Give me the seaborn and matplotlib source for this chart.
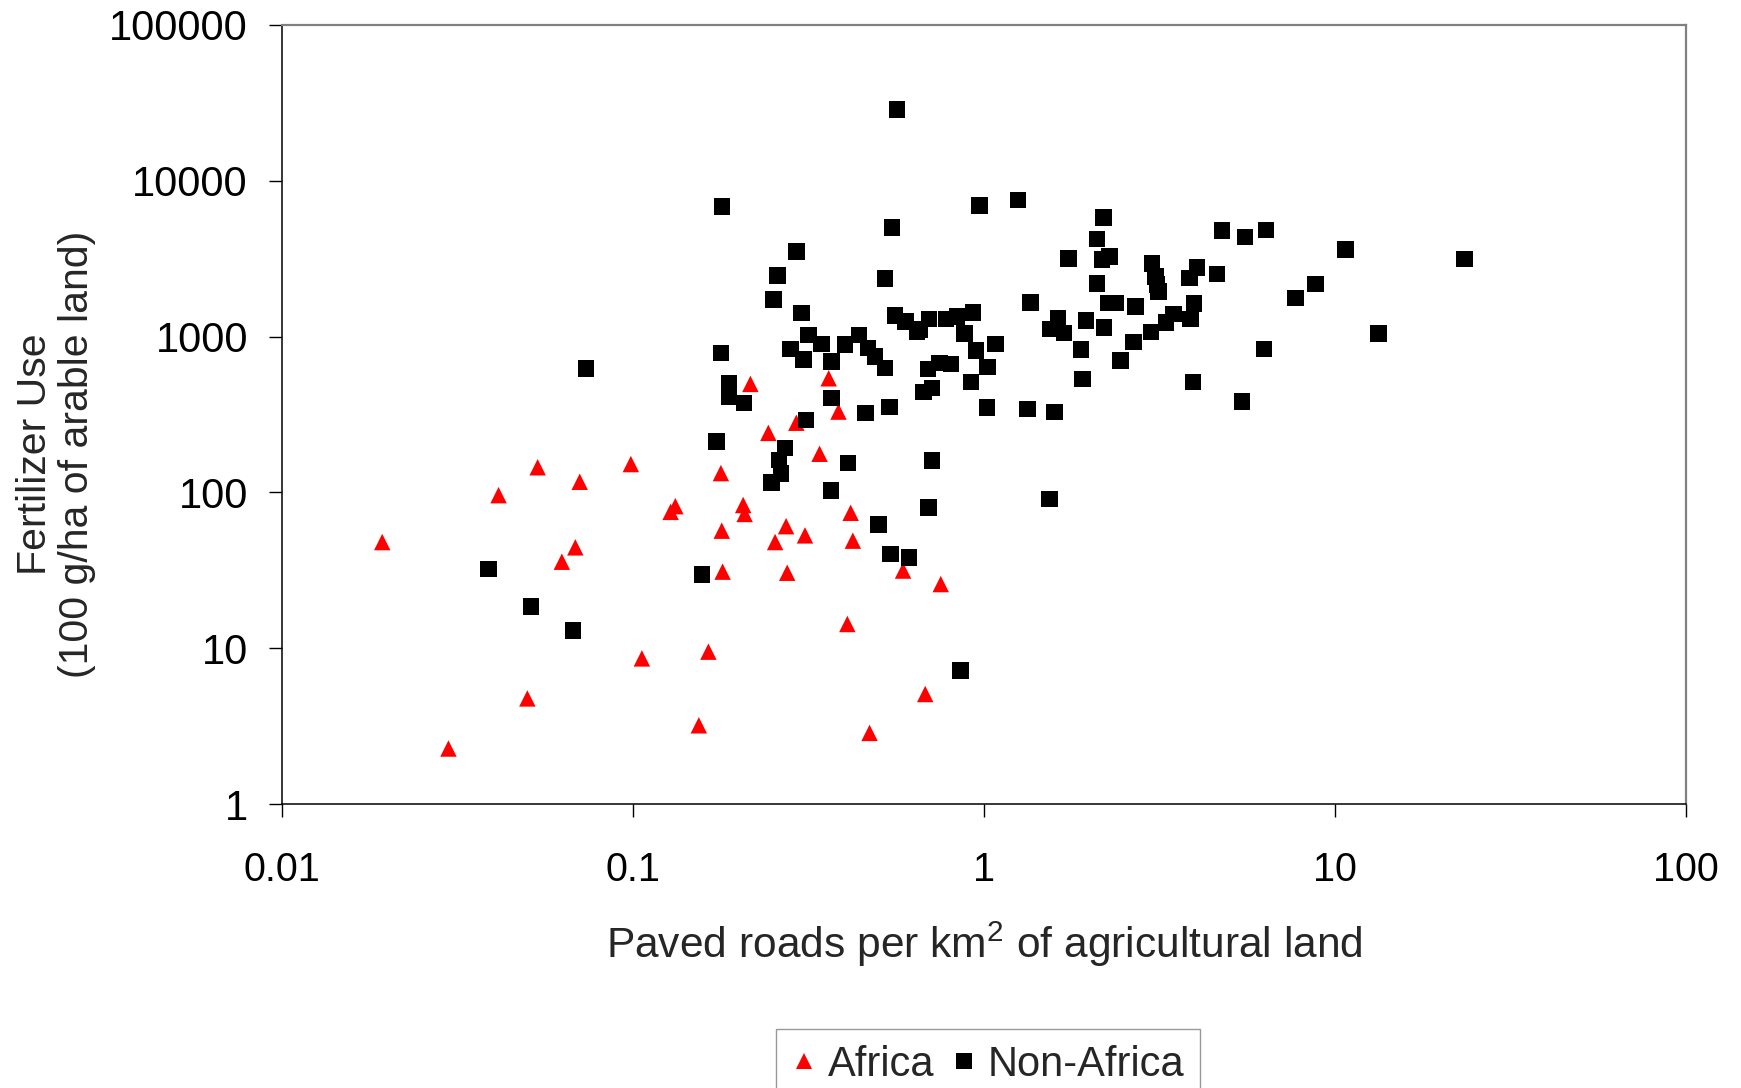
import numpy as np
import pandas as pd
import matplotlib
matplotlib.use("Agg")
import matplotlib.pyplot as plt
from matplotlib.ticker import FixedLocator, NullLocator
import seaborn as sns

# ---------------- data ----------------
africa_x = [0.0193, 0.0298, 0.0414, 0.0500, 0.0535, 0.0627, 0.0685, 0.0705, 0.0986,
            0.106, 0.128, 0.132, 0.154, 0.164, 0.178, 0.179, 0.180, 0.206, 0.208,
            0.216, 0.243, 0.254, 0.273, 0.275, 0.292, 0.309, 0.340, 0.361, 0.385,
            0.408, 0.417, 0.423, 0.472, 0.588, 0.680, 0.753]
africa_y = [48, 2.27, 96, 4.76, 145, 35.9, 44.4, 117, 152,
            8.6, 75, 81.6, 3.2, 9.5, 133, 56.8, 31, 83, 72.7,
            497, 241, 48, 60.7, 30.5, 280, 53, 177, 540, 330,
            14.3, 74, 49, 2.86, 31.5, 5.08, 25.8]

nonafrica_x = [0.0736, 0.0388, 0.0512, 0.0674, 0.157, 0.179, 0.178, 0.188, 0.188, 0.207,
               0.173, 0.316, 0.344, 0.281, 0.306, 0.368, 0.402, 0.441, 0.467, 0.490,
               0.523, 0.368, 0.311, 0.459, 0.538, 0.271, 0.261, 0.264, 0.248, 0.410,
               0.367, 0.711, 0.694, 1.535, 0.501, 0.541, 0.611, 0.857, 1.02, 1.33,
               1.59, 0.692, 0.747, 0.805, 0.711, 0.673, 0.918, 0.949, 1.023, 1.078,
               0.879, 0.644, 0.566, 0.971, 1.25, 0.546, 2.19, 0.292, 2.10, 1.74,
               2.17, 2.28, 3.01, 3.08, 3.11, 3.14, 0.258, 0.522, 2.10, 0.251,
               1.355, 2.265, 2.37, 2.70, 0.302, 0.557, 0.598, 0.655, 0.698, 0.779,
               0.837, 0.929, 1.624, 1.545, 1.69, 1.95, 2.20, 1.89, 2.45, 2.67,
               2.99, 3.30, 1.91, 4.76, 5.55, 6.37, 10.7, 23.4, 4.05, 3.85,
               4.61, 8.79, 7.71, 3.96, 3.47, 3.87, 3.94, 6.27, 13.3, 5.43]
nonafrica_y = [625, 32.3, 18.5, 13.0, 29.8, 6835, 784, 503, 413, 374,
               212, 1028, 900, 832, 711, 694, 887, 1028, 845, 747,
               628, 403, 292, 323, 352, 192, 162, 132, 116, 154,
               103, 160, 80, 90.5, 62.2, 40.1, 38.1, 7.18, 351, 342,
               329, 619, 676, 666, 467, 440, 510, 816, 637, 896,
               1044, 1069, 28640, 6935, 7500, 5026, 5818, 3509, 4238, 3163,
               3118, 3275, 2940, 2436, 2155, 1951, 2471, 2354, 2189, 1727,
               1660, 1642, 1642, 1563, 1416, 1362, 1253, 1108, 1297, 1297,
               1349, 1430, 1316, 1117, 1055, 1265, 1146, 824, 703, 927,
               1069, 1234, 536, 4786, 4355, 4853, 3614, 3147, 2780, 2376,
               2523, 2174, 1770, 1626, 1396, 1297, 511, 836, 1044, 383]

series_names = ["Africa", "Non-Africa"]
x_ticks = [0.01, 0.1, 1, 10, 100]
x_tick_labels = ["0.01", "0.1", "1", "10", "100"]
y_ticks = [1, 10, 100, 1000, 10000, 100000]
y_tick_labels = ["1", "10", "100", "1000", "10000", "100000"]

df = pd.DataFrame({
    "roads": africa_x + nonafrica_x,
    "fert": africa_y + nonafrica_y,
    "region": [series_names[0]] * len(africa_x) + [series_names[1]] * len(nonafrica_x),
})

# ---------------- style ----------------
sns.set_style("white")
plt.rcParams["font.family"] = ["Liberation Sans", "DejaVu Sans"]
plt.rcParams["mathtext.fontset"] = "custom"
plt.rcParams["mathtext.rm"] = "Liberation Sans"
plt.rcParams["mathtext.it"] = "Liberation Sans"

W, H = 1741, 1088
fig = plt.figure(figsize=(W / 100, H / 100), dpi=100)
L, R, T, B = 282, 1686, 25, 804
ax = fig.add_axes([L / W, 1 - B / H, (R - L) / W, (B - T) / H])

sns.scatterplot(
    data=df, x="roads", y="fert", hue="region", style="region",
    hue_order=series_names, style_order=series_names,
    palette={"Africa": "#ff0000", "Non-Africa": "#000000"},
    markers={"Africa": "^", "Non-Africa": "s"},
    s=140, linewidth=0, ax=ax, legend=True,
)

ax.set_xscale("log")
ax.set_yscale("log")
ax.set_xlim(0.01, 100)
ax.set_ylim(1, 100000)
ax.xaxis.set_major_locator(FixedLocator(x_ticks))
ax.yaxis.set_major_locator(FixedLocator(y_ticks))
ax.xaxis.set_minor_locator(NullLocator())
ax.yaxis.set_minor_locator(NullLocator())
ax.set_xticklabels(x_tick_labels, fontsize=28.5)
ax.set_yticklabels(y_tick_labels, fontsize=30)
ax.tick_params(axis="both", which="major", direction="out", length=9.5, width=1.0,
               color="black", labelcolor="black", bottom=True, left=True)
ax.tick_params(axis="x", pad=24)
ax.tick_params(axis="y", pad=15)

for side in ["left", "bottom"]:
    ax.spines[side].set_color("black")
    ax.spines[side].set_linewidth(1.1)
for side in ["top", "right"]:
    ax.spines[side].set_color("#808080")
    ax.spines[side].set_linewidth(1.6)

ax.set_xlabel("Paved roads per km$^2$ of agricultural land", fontsize=30.6, va="center")
ax.xaxis.set_label_coords(0.5, (B - 944) / (B - T))
ax.set_ylabel("Fertilizer Use\n(100 g/ha of arable land)", fontsize=29.5,
              va="center", multialignment="center", linespacing=1.16)
ax.yaxis.set_label_coords((56 - L) / (R - L), (B - 454) / (B - T))

sns.move_legend(
    ax, loc="upper center", bbox_to_anchor=(988 / W, 1 - 1029 / H),
    bbox_transform=fig.transFigure, ncol=2, title=None, frameon=True,
    fontsize=30, handlelength=0.6, handletextpad=0.28, columnspacing=0.4,
    borderpad=0.38, borderaxespad=0, fancybox=False, edgecolor="#808080",
    markerscale=1.0,
)
leg = ax.get_legend()
leg.get_frame().set_linewidth(1.0)

fig.savefig("out.png", dpi=100, facecolor="white")
